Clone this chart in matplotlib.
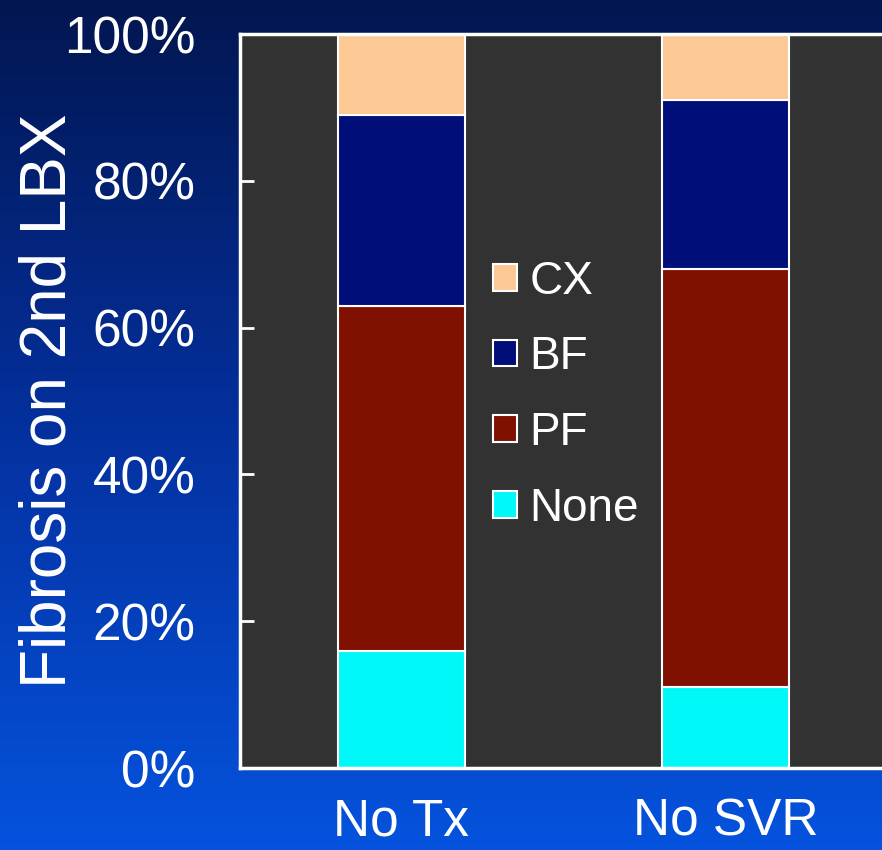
import numpy as np
import matplotlib
matplotlib.use("Agg")
import matplotlib.pyplot as plt
from matplotlib.colors import LinearSegmentedColormap

plt.rcParams['font.family'] = ['Liberation Sans', 'DejaVu Sans']

# Fibrosis stage on second liver biopsy, percent of patients per group
groups = ["No Tx", "No SVR"]
stages = ["None", "PF", "BF", "CX"]
none_pct = [16, 11]
pf_pct = [47, 57]
bf_pct = [26, 23]
cx_pct = [11, 9]
y_ticks = [0, 20, 40, 60, 80, 100]
y_tick_labels = ["0%", "20%", "40%", "60%", "80%", "100%"]

series = [none_pct, pf_pct, bf_pct, cx_pct]
colors = ["#00F8F8", "#801000", "#000E7A", "#FCC894"]

fig = plt.figure(figsize=(8.82, 8.5), dpi=100)

# blue gradient backdrop: dark navy at the top, bright blue at the bottom
bg = fig.add_axes([0, 0, 1, 1], zorder=-10)
grad = LinearSegmentedColormap.from_list(
    "bg", ["#021650", "#04309E", "#0553DE"])
bg.imshow(np.linspace(0, 1, 256).reshape(-1, 1), aspect="auto",
          cmap=grad, extent=[0, 1, 0, 1], origin="upper")
bg.set_axis_off()

ax = fig.add_axes([240 / 882, 82 / 850, 642 / 882, 734 / 850])
ax.set_facecolor("#323232")

x = np.arange(len(groups))
bottom = np.zeros(len(groups))
handles = []
for vals, col, name in zip(series, colors, stages):
    b = ax.bar(x, vals, width=0.392, bottom=bottom, color=col,
               edgecolor="white", linewidth=1.5, label=name)
    handles.append(b)
    bottom += np.array(vals)

ax.set_xlim(-0.498, 1.483)
ax.set_ylim(0, 100)
ax.set_yticks(y_ticks)
ax.set_yticklabels(y_tick_labels)
ax.set_xticks(x)
ax.set_xticklabels(groups)

for side in ["left", "bottom", "top"]:
    ax.spines[side].set_color("white")
    ax.spines[side].set_linewidth(2.5)
ax.spines["right"].set_visible(False)

ax.tick_params(axis="y", direction="in", length=10, width=2,
               color="white", labelcolor="white", labelsize=37, pad=32)
ax.tick_params(axis="x", length=0, labelcolor="white", labelsize=37, pad=21)

ax.set_ylabel("Fibrosis on 2nd LBX", color="white", fontsize=46)
ax.yaxis.set_label_coords(-0.252, 0.5)

leg = ax.legend(handles[::-1], stages[::-1], loc="center left",
                bbox_to_anchor=(0.394, 0.508), frameon=False,
                fontsize=33, handlelength=0.52, handleheight=0.52,
                handletextpad=0.28, labelspacing=0.69, borderpad=0,
                borderaxespad=0)
for t in leg.get_texts():
    t.set_color("white")

fig.savefig("out.png", dpi=100)
